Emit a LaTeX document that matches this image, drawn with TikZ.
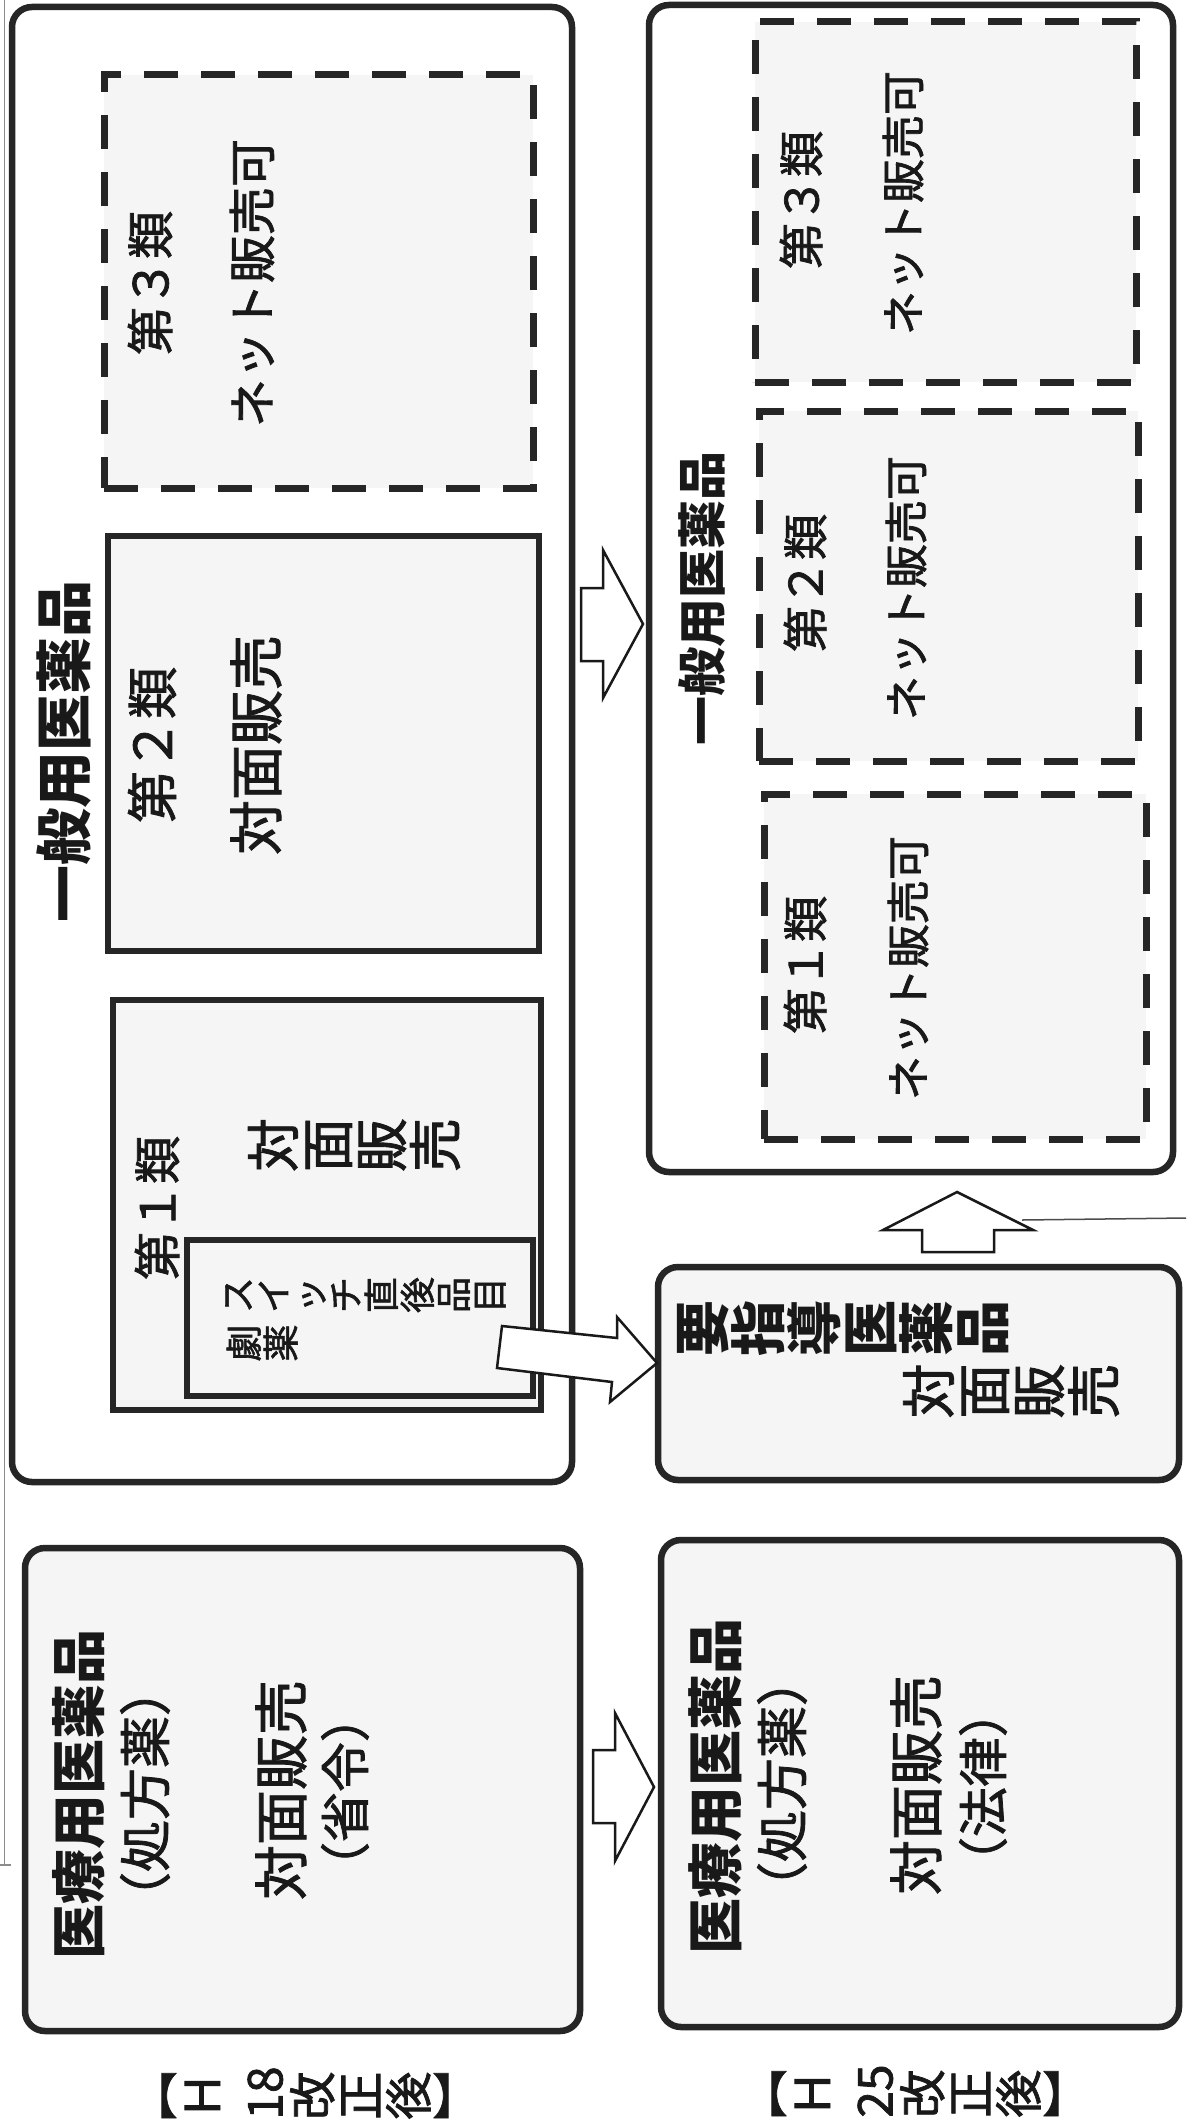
\documentclass[tikz,border=0pt]{standalone}
\usepackage{fontspec}
\usepackage{graphicx}
\setmainfont{Noto Sans CJK JP}
\newfontfamily\jpr{Noto Sans CJK JP}[FakeBold=1.6]
\newcommand\vtstop{}
\newcommand\rc[1]{\rotatebox{90}{\raisebox{0pt}[0.88em][0.12em]{#1}}}
\newcommand\up[1]{\raisebox{0.12em}{#1}}
\def\vt#1{\vtloop#1\vtstop}
\def\vtloop#1{\ifx\vtstop#1\else\rc{#1}\expandafter\vtloop\fi}
\newcommand\fs[1]{\fontsize{#1}{#1}\selectfont}
\begin{document}
\begin{tikzpicture}[x=1pt,y=-1pt,
  box/.style={draw=black!85, line width=6.5pt, fill=black!4, inner sep=0pt, outer sep=0pt},
  rbox/.style={box, rounded corners=20pt},
  dbox/.style={box, line width=7pt, dash pattern=on 34pt off 23pt},
  txt/.style={inner sep=0pt, text=black!90},
  rtxt/.style={txt, rotate=90},
  barrow/.style={draw=black!90, line width=2.5pt, fill=white, line join=miter},
  scan/.style={draw=black!45, line width=1.5pt}]
\useasboundingbox (0,0) rectangle (1186,2122);
\fill[white] (0,0) rectangle (1186,2122);
% scan edge
\draw[scan] (4.5,0) -- (4.5,1865);
\draw[scan] (0,1865) -- (11,1865);

% ===== H18 =====
\node[rbox, fill=white, minimum width=560, minimum height=1475] (A) at (292,744.5) {};
\node[rtxt, font=\fs{57}\bfseries] (At) at (64,751) {一般用医薬品};

\node[dbox, minimum width=429, minimum height=413] (A3) at (318.5,281.5) {};
\node[rtxt, font=\jpr\fs{48}] (A3a) at (150,283) {第３類};
\node[rtxt, font=\jpr\fs{48}] (A3b) at (252,283) {ネット販売可};

\node[box, minimum width=431, minimum height=415] (A2) at (323.5,743.5) {};
\node[rtxt, font=\jpr\fs{52}] (A2a) at (152,745) {第２類};
\node[rtxt, font=\jpr\fs{55}] (A2b) at (256,745) {対面販売};

\node[box, minimum width=428, minimum height=410] (A1) at (327,1205) {};
\node[rtxt, font=\jpr\fs{48}] (A1a) at (157,1208) {第１類};
\node[txt, font=\jpr\fs{54}] (A1b) at (354,1145) {\vt{対面販売}};

\node[box, minimum width=346, minimum height=156] (Ai) at (360,1318) {};
\node[txt, font=\jpr\fs{36}, anchor=west] (Aia) at (219,1295) {\vt{スイッチ直後品目}};
\node[txt, font=\jpr\fs{37}, anchor=west] (Aib) at (225,1343) {\vt{劇薬}};

\node[rbox, minimum width=555, minimum height=483] (E) at (302.5,1789.5) {};
\node[rtxt, font=\fs{55}\bfseries] (Ea) at (79,1794) {医療用医薬品};
\node[rtxt, font=\jpr\fs{52}] (Eb) at (145,1794) {（処方薬）};
\node[rtxt, font=\jpr\fs{55}] (Ec) at (281,1790) {対面販売};
\node[rtxt, font=\jpr\fs{50}] (Ed) at (345,1792) {（省令）};
\node[txt, font=\jpr\fs{48}] (El) at (305,2093) {\up{【}\rc{Ｈ}\hspace{0.3em}\rc{18}\vt{改正後}\up{】}};

% ===== H25 =====
\node[rbox, fill=white, minimum width=524, minimum height=1167] (B) at (911,588.5) {};
\node[rtxt, font=\fs{49}\bfseries] (Bt) at (702,598) {一般用医薬品};

\node[dbox, minimum width=381, minimum height=360] (B3) at (945.5,202) {};
\node[rtxt, font=\jpr\fs{46}] (B3a) at (801,200) {第３類};
\node[rtxt, font=\jpr\fs{44}] (B3b) at (903,203) {ネット販売可};

\node[dbox, minimum width=379, minimum height=350] (B2) at (948.5,586) {};
\node[rtxt, font=\jpr\fs{46}] (B2a) at (805,583) {第２類};
\node[rtxt, font=\jpr\fs{44}] (B2b) at (906,588) {ネット販売可};

\node[dbox, minimum width=382, minimum height=345] (B1) at (955,966.5) {};
\node[rtxt, font=\jpr\fs{46}] (B1a) at (805,965) {第１類};
\node[rtxt, font=\jpr\fs{44}] (B1b) at (908,968) {ネット販売可};

\node[rbox, minimum width=521, minimum height=213] (C) at (918.5,1373.5) {};
\node[txt, font=\fs{56}\bfseries] (Ca) at (842,1328) {\vt{要指導医薬品}};
\node[txt, font=\jpr\fs{55}] (Cb) at (1011,1391) {\vt{対面販売}};

\node[rbox, minimum width=518, minimum height=487] (D) at (920,1783.5) {};
\node[rtxt, font=\fs{56}\bfseries] (Da) at (715,1786) {医療用医薬品};
\node[rtxt, font=\jpr\fs{52}] (Db) at (782,1784) {（処方薬）};
\node[rtxt, font=\jpr\fs{55}] (Dc) at (916,1785) {対面販売};
\node[rtxt, font=\jpr\fs{50}] (Dd) at (983,1787) {（法律）};
\node[txt, font=\jpr\fs{48}] (Dl) at (915,2091) {\up{【}\rc{Ｈ}\hspace{0.3em}\rc{25}\vt{改正後}\up{】}};

% ===== block arrows =====
% A -> B
\draw[barrow] (581,588) -- (603,588) -- (603,550) -- (643,624) -- (603,698) -- (603,661) -- (581,661) -- cycle;
% E -> D
\draw[barrow] (593,1750) -- (615,1750) -- (615,1713) -- (654,1787) -- (615,1861) -- (615,1823) -- (593,1823) -- cycle;
% C -> B (up)
\draw[barrow] (922,1252) -- (922,1230) -- (883,1230) -- (957,1192) -- (1033,1230) -- (994,1230) -- (994,1252) -- cycle;
\draw[line width=1.5pt, black!70] (1022,1220) -- (1186,1218);
% Ai -> C (tilted)
\draw[barrow] (502,1326) -- (617,1338) -- (617,1317) -- (657,1363) -- (610,1402) -- (612,1382) -- (497,1368) -- cycle;
\end{tikzpicture}
\end{document}
